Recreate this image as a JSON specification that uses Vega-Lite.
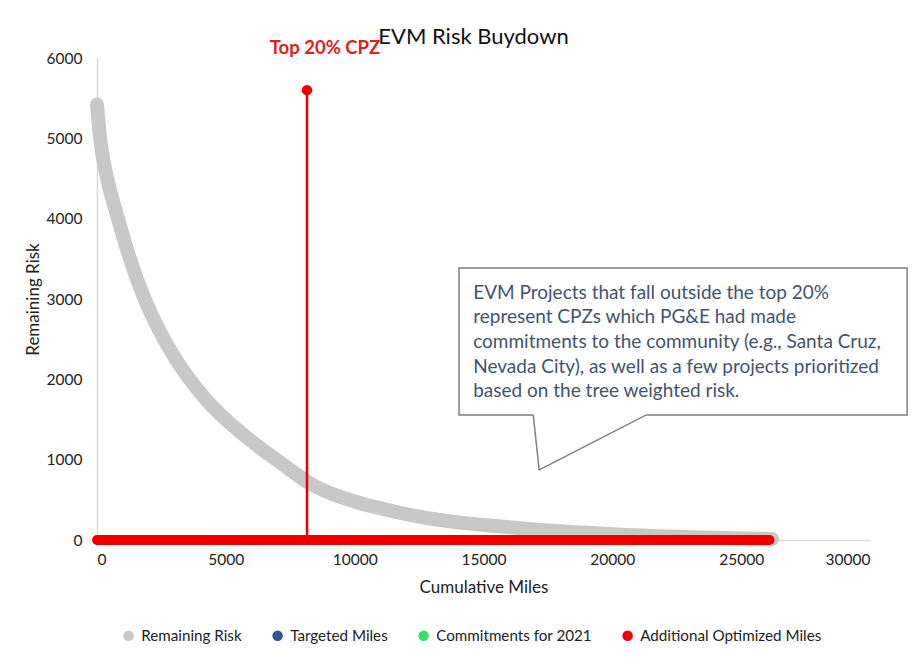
{
  "$schema": "https://vega.github.io/schema/vega-lite/v6.json",
  "width": 773,
  "height": 482,
  "autosize": {"type": "none"},
  "padding": {"left": 97, "top": 58, "right": 53, "bottom": 120},
  "background": "white",
  "config": {
    "font": "Lato",
    "view": {"stroke": null},
    "axis": {"grid": false, "ticks": false, "domainColor": "#d9d9d9", "domainWidth": 1.5, "labelColor": "#222", "titleColor": "#222", "labelFont": "Lato", "titleFont": "Lato", "labelFontSize": 15.5, "titleFontSize": 17, "titleFontWeight": "normal"}
  },
  "title": {"text": "EVM Risk Buydown", "fontSize": 22, "fontWeight": "normal", "font": "Lato", "color": "#111", "offset": -10, "dx": -10},
  "datasets": {
    "curve": [
      {"miles": 0, "risk": 5420, "series": "Remaining Risk"},
      {"miles": 120, "risk": 5000, "series": "Remaining Risk"},
      {"miles": 400, "risk": 4500, "series": "Remaining Risk"},
      {"miles": 815, "risk": 4000, "series": "Remaining Risk"},
      {"miles": 1300, "risk": 3480, "series": "Remaining Risk"},
      {"miles": 1850, "risk": 3000, "series": "Remaining Risk"},
      {"miles": 2400, "risk": 2620, "series": "Remaining Risk"},
      {"miles": 3000, "risk": 2280, "series": "Remaining Risk"},
      {"miles": 3600, "risk": 2000, "series": "Remaining Risk"},
      {"miles": 4200, "risk": 1760, "series": "Remaining Risk"},
      {"miles": 4800, "risk": 1560, "series": "Remaining Risk"},
      {"miles": 5500, "risk": 1360, "series": "Remaining Risk"},
      {"miles": 6200, "risk": 1180, "series": "Remaining Risk"},
      {"miles": 7000, "risk": 990, "series": "Remaining Risk"},
      {"miles": 7600, "risk": 850, "series": "Remaining Risk"},
      {"miles": 8150, "risk": 725, "series": "Remaining Risk"},
      {"miles": 9000, "risk": 590, "series": "Remaining Risk"},
      {"miles": 10000, "risk": 480, "series": "Remaining Risk"},
      {"miles": 11000, "risk": 395, "series": "Remaining Risk"},
      {"miles": 12500, "risk": 290, "series": "Remaining Risk"},
      {"miles": 14000, "risk": 220, "series": "Remaining Risk"},
      {"miles": 15000, "risk": 187, "series": "Remaining Risk"},
      {"miles": 16500, "risk": 145, "series": "Remaining Risk"},
      {"miles": 17500, "risk": 120, "series": "Remaining Risk"},
      {"miles": 19000, "risk": 90, "series": "Remaining Risk"},
      {"miles": 20000, "risk": 72, "series": "Remaining Risk"},
      {"miles": 22500, "risk": 40, "series": "Remaining Risk"},
      {"miles": 25000, "risk": 20, "series": "Remaining Risk"},
      {"miles": 26200, "risk": 12, "series": "Remaining Risk"}
    ],
    "optimized": [
      {"miles": 0, "risk": 0, "series": "Additional Optimized Miles"},
      {"miles": 26100, "risk": 0, "series": "Additional Optimized Miles"}
    ],
    "cpz": [
      {"miles": 8150, "risk": 0, "series": "Additional Optimized Miles"},
      {"miles": 8150, "risk": 5600, "series": "Additional Optimized Miles"}
    ],
    "cpzTop": [
      {"miles": 8150, "risk": 5600, "series": "Additional Optimized Miles", "label": "Top 20% CPZ"}
    ],
    "callout": [
      {"miles": 16930, "risk": 1557, "k": 0},
      {"miles": 14050, "risk": 1557, "k": 1},
      {"miles": 14050, "risk": 3387, "k": 2},
      {"miles": 31440, "risk": 3387, "k": 3},
      {"miles": 31440, "risk": 1557, "k": 4},
      {"miles": 21320, "risk": 1557, "k": 5},
      {"miles": 17160, "risk": 872, "k": 6},
      {"miles": 16930, "risk": 1557, "k": 7}
    ],
    "calloutText": [
      {"miles": 14600, "risk": 3190, "text": "EVM Projects that fall outside the top 20%\nrepresent CPZs which PG&E had made\ncommitments to the community (e.g., Santa Cruz,\nNevada City), as well as a few projects prioritized\nbased on the tree weighted risk."}
    ]
  },
  "layer": [
    {
      "data": {"name": "curve"},
      "mark": {"type": "line", "strokeWidth": 14, "strokeCap": "round", "strokeJoin": "round", "interpolate": "monotone"},
      "encoding": {
        "x": {"field": "miles", "type": "quantitative", "title": "Cumulative Miles", "scale": {"domain": [0, 30000]}, "axis": {"values": [0, 5000, 10000, 15000, 20000, 25000, 30000], "format": "d", "labelPadding": 12, "titlePadding": 12, "domainColor": "#d9d9d9"}},
        "y": {"field": "risk", "type": "quantitative", "title": "Remaining Risk", "scale": {"domain": [0, 6000]}, "axis": {"values": [0, 1000, 2000, 3000, 4000, 5000, 6000], "format": "d", "labelPadding": 15, "titlePadding": 4}},
        "color": {
          "field": "series",
          "type": "nominal",
          "scale": {"domain": ["Remaining Risk", "Targeted Miles", "Commitments for 2021", "Additional Optimized Miles"], "range": ["#c8c8c8", "#2f5597", "#33e06a", "#ee0000"]},
          "legend": {
            "title": null,
            "orient": "none",
            "legendX": 24,
            "legendY": 570,
            "direction": "horizontal",
            "symbolType": "circle",
            "symbolSize": 110,
            "labelFontSize": 15.2,
            "labelFont": "Lato",
            "labelColor": "#222",
            "labelLimit": 400,
            "columnPadding": 28,
            "labelOffset": 5,
            "encode": {"symbols": {"update": {"fill": {"scale": "color", "field": "value"}, "strokeWidth": {"value": 0}, "opacity": {"value": 1}}}}
          }
        }
      }
    },
    {
      "data": {"name": "optimized"},
      "mark": {"type": "line", "strokeWidth": 10, "strokeCap": "round"},
      "encoding": {
        "x": {"field": "miles", "type": "quantitative"},
        "y": {"field": "risk", "type": "quantitative"},
        "color": {"field": "series", "type": "nominal"}
      }
    },
    {
      "data": {"name": "cpz"},
      "mark": {"type": "line", "strokeWidth": 2.5},
      "encoding": {
        "x": {"field": "miles", "type": "quantitative"},
        "y": {"field": "risk", "type": "quantitative"},
        "color": {"field": "series", "type": "nominal"}
      }
    },
    {
      "data": {"name": "cpzTop"},
      "mark": {"type": "point", "filled": true, "size": 110, "opacity": 1},
      "encoding": {
        "x": {"field": "miles", "type": "quantitative"},
        "y": {"field": "risk", "type": "quantitative"},
        "color": {"field": "series", "type": "nominal"}
      }
    },
    {
      "data": {"name": "cpzTop"},
      "mark": {"type": "text", "fontSize": 18.5, "fontWeight": "bold", "font": "Lato", "color": "#e31c1c", "dx": 18, "dy": -42, "align": "center", "baseline": "middle"},
      "encoding": {
        "x": {"field": "miles", "type": "quantitative"},
        "y": {"field": "risk", "type": "quantitative"},
        "text": {"field": "label"}
      }
    },
    {
      "data": {"name": "callout"},
      "mark": {"type": "line", "color": "#808080", "strokeWidth": 1.5, "clip": false, "strokeJoin": "miter"},
      "encoding": {
        "x": {"field": "miles", "type": "quantitative"},
        "y": {"field": "risk", "type": "quantitative"},
        "order": {"field": "k", "type": "quantitative"}
      }
    },
    {
      "data": {"name": "calloutText"},
      "mark": {"type": "text", "fontSize": 19, "font": "Lato", "color": "#44546a", "align": "left", "baseline": "top", "lineBreak": "\n", "lineHeight": 24.6},
      "encoding": {
        "x": {"field": "miles", "type": "quantitative"},
        "y": {"field": "risk", "type": "quantitative"},
        "text": {"field": "text"}
      }
    }
  ]
}
